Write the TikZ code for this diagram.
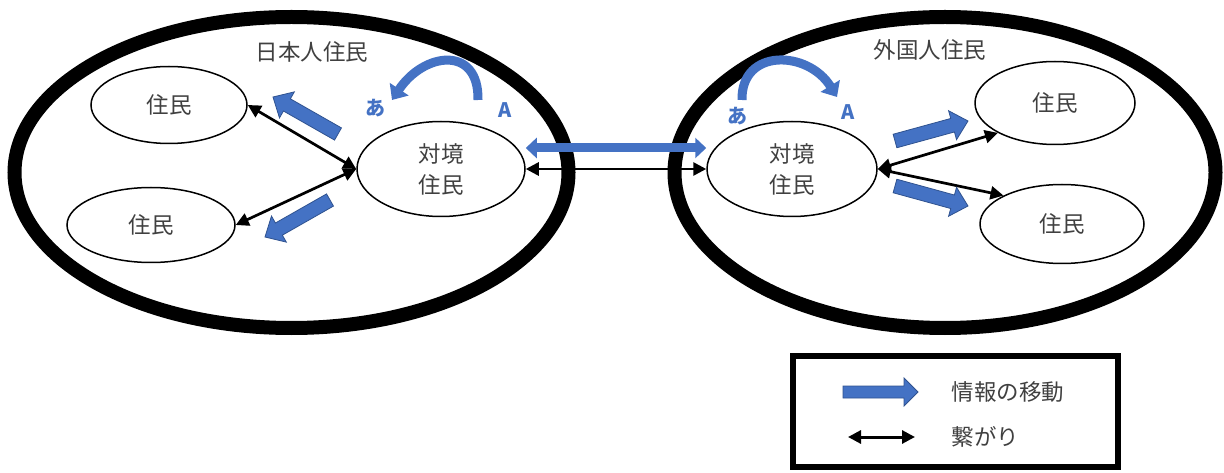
\documentclass[tikz,border=0pt]{standalone}
\usepackage{fontspec}
\setmainfont{Noto Sans CJK JP}
\usetikzlibrary{arrows.meta,calc,shapes.geometric}
\definecolor{bfill}{HTML}{4472C4}
\definecolor{bline}{HTML}{2F528F}
\definecolor{txt}{HTML}{404040}
\tikzset{
  person/.style={ellipse, draw, line width=1.5pt, inner sep=0pt, font=\fontsize{22.5}{31}\selectfont, text=txt, align=center},
  group/.style={ellipse, draw, line width=14pt, inner sep=0pt},
  link/.style={line width=2.7pt, {Triangle[width=13pt,length=13pt]}-{Triangle[width=13pt,length=13pt]}},
  grouplabel/.style={font=\fontsize{22.5}{26}\selectfont, text=txt},
  blueletter/.style={font=\fontsize{20}{24}\selectfont\bfseries, text=bfill},
  turn/.style={draw=bfill, line width=9pt, -{Triangle[width=22pt,length=13pt]}},
  bothway/.style={draw=bfill, line width=9pt, {Triangle[width=20pt,length=11pt]}-{Triangle[width=20pt,length=11pt]}},
}
\newcommand\barrow[5]{%
  \coordinate (ba-h) at ($(#2)!#5!(#1)$);
  \filldraw[fill=bfill, draw=bline, line width=0.8pt, line join=miter]
    ($(#1)!#3!90:(#2)$) -- ($(ba-h)!#3!90:(#2)$) -- ($(ba-h)!#4!90:(#2)$) -- (#2)
    -- ($(ba-h)!#4!-90:(#2)$) -- ($(ba-h)!#3!-90:(#2)$) -- ($(#1)!#3!-90:(#2)$) -- cycle;
}
\begin{document}
\begin{tikzpicture}[x=1pt,y=-1pt]
\useasboundingbox (0,0) rectangle (1224,473);
% group ellipses
\node[group, minimum width=554pt, minimum height=311pt] (jp) at (291.5,172.5) {};
\node[group, minimum width=541pt, minimum height=311pt] (fg) at (945,172.5) {};
\node[grouplabel] (jpl) at (312,52) {日本人住民};
\node[grouplabel] (fgl) at (930,50) {外国人住民};
% residents
\node[person, minimum width=156pt, minimum height=77pt] (lt) at (169,105) {住民};
\node[person, minimum width=168pt, minimum height=75pt] (lb) at (151,225) {住民};
\node[person, minimum width=168pt, minimum height=95pt] (lc) at (441,169) {対境\\住民};
\node[person, minimum width=170pt, minimum height=95pt] (rc) at (792,169) {対境\\住民};
\node[person, minimum width=160pt, minimum height=83pt] (rt) at (1055,103) {住民};
\node[person, minimum width=164pt, minimum height=79pt] (rb) at (1062,224) {住民};
% links
\draw[link] (lc.west) -- (lt.east);
\draw[link] (lc.west) -- (lb.east);
\draw[link] (lc.east) -- (rc.west);
\draw[link] (rc.east) -- (rt.south west);
\draw[link] (rc.east) -- (rb.north west);
% blue double arrow
\coordinate (bl) at ($(lc.east)+(0,-21)$);
\coordinate (br) at ($(rc.west)+(0,-21)$);
\draw[bothway] (bl) -- (br);
% block arrows
\coordinate (a1t) at (338,134); \coordinate (a1h) at (273,97);
\barrow{a1t}{a1h}{7pt}{15pt}{16pt}
\coordinate (a2t) at (330,200); \coordinate (a2h) at (265,237);
\barrow{a2t}{a2h}{7pt}{15pt}{16pt}
\coordinate (a3t) at (895,141); \coordinate (a3h) at (968,121);
\barrow{a3t}{a3h}{7pt}{15pt}{16pt}
\coordinate (a4t) at (895,186); \coordinate (a4h) at (968,206);
\barrow{a4t}{a4h}{7pt}{15pt}{16pt}
% curved arrows
\coordinate (c1s) at (478,100); \coordinate (c1e) at (392,100);
\draw[turn] (c1s) .. controls (479,45) and (424,52) .. (c1e);
\coordinate (c2s) at (742,100); \coordinate (c2e) at (837,97);
\draw[turn] (c2s) .. controls (741,48) and (808,50) .. (c2e);
\node[blueletter] (a-l) at (375,108) {あ};
\node[blueletter] (A-l) at (505,110) {A};
\node[blueletter] (a-r) at (737,116) {あ};
\node[blueletter] (A-r) at (848,112) {A};
% legend
\node[draw, line width=6pt, minimum width=325pt, minimum height=111pt, inner sep=0pt] (legend) at (955.5,411.5) {};
\coordinate (l1t) at (843,392); \coordinate (l1h) at (918,392);
\barrow{l1t}{l1h}{6pt}{14pt}{14pt}
\coordinate (l2a) at (848,437); \coordinate (l2b) at (915,437);
\draw[link, line width=3pt] (l2a) -- (l2b);
\node[grouplabel, anchor=west] (t1) at (948,392) {情報の移動};
\node[grouplabel, anchor=west] (t2) at (948,437) {繋がり};
\end{tikzpicture}
\end{document}
